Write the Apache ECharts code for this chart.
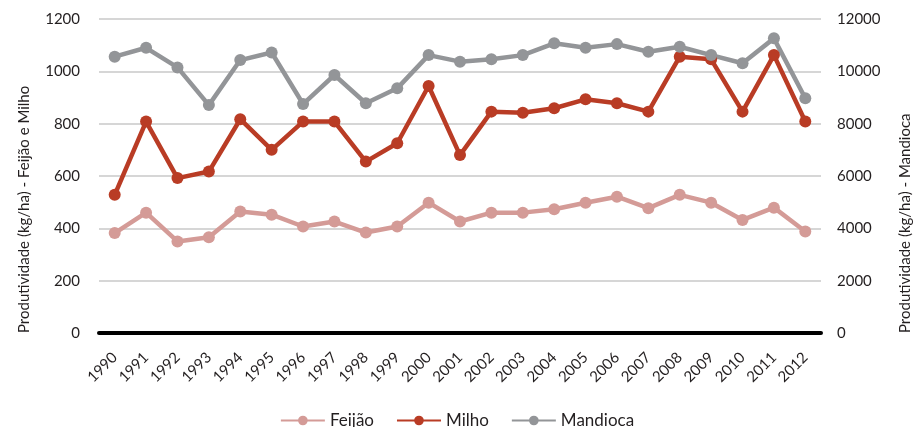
<!DOCTYPE html>
<html>
<head>
<meta charset="utf-8">
<script src="https://cdn.jsdelivr.net/npm/echarts@6/dist/echarts.min.js"></script>
<style>html,body{margin:0;padding:0;background:#fff;}#c{width:914px;height:427px;}</style>
</head>
<body>
<div id="c"></div>
<script>
const years = ['1990','1991','1992','1993','1994','1995','1996','1997','1998','1999','2000','2001','2002','2003','2004','2005','2006','2007','2008','2009','2010','2011','2012'];
const feijao = [382,460,350,366,464,452,407,426,384,407,498,426,460,460,473,498,521,477,528,498,432,479,388];
const milho = [528,808,592,617,817,700,808,808,655,725,944,680,846,842,859,893,878,846,1056,1046,846,1062,808];
const mandioca = [10560,10900,10150,8710,10430,10720,8750,9860,8780,9350,10620,10370,10460,10620,11070,10900,11040,10750,10940,10620,10310,11260,8970];
const leftTicks = {min:0, max:1200, interval:200};
const rightTicks = {min:0, max:12000, interval:2000};
const leftTitle = 'Produtividade (kg/ha) - Feijão e Milho';
const rightTitle = 'Produtividade (kg/ha) - Mandioca';

const font = 'Lato';
const txt = '#231f20';
const chart = echarts.init(document.getElementById('c'));
const mk = (name, data, color, yIdx) => ({
  name, type:'line', data, yAxisIndex:yIdx,
  symbol:'circle', symbolSize:12,
  lineStyle:{color, width:4.5},
  itemStyle:{color},
  emphasis:{disabled:true}
});
chart.setOption({
  animation:false,
  textStyle:{fontFamily:font},
  grid:{left:99, right:93, top:19, bottom:94},
  legend:{
    top:407, left:'center', itemWidth:44, itemHeight:12, itemGap:22,
    textStyle:{fontFamily:font, fontSize:17, color:txt},
    data:['Feijão','Milho','Mandioca']
  },
  graphic:[
    {type:'text', x:24, y:333, rotation:Math.PI/2,
     style:{text:leftTitle, fontFamily:font, fontSize:15, fill:txt, align:'left', verticalAlign:'middle'}},
    {type:'text', x:905, y:333, rotation:Math.PI/2,
     style:{text:rightTitle, fontFamily:font, fontSize:15, fill:txt, align:'left', verticalAlign:'middle'}}
  ],
  xAxis:{
    type:'category', data:years, boundaryGap:true,
    axisLine:{lineStyle:{color:'#000', width:4}},
    axisTick:{show:false},
    axisLabel:{rotate:45, fontSize:15, color:txt, fontFamily:font, margin:22}
  },
  yAxis:[
    {type:'value', min:leftTicks.min, max:leftTicks.max, interval:leftTicks.interval,
     axisLine:{show:false}, axisTick:{show:false},
     axisLabel:{fontSize:15, color:txt, fontFamily:font, margin:19, formatter:v=>String(v)},
     splitLine:{lineStyle:{color:'#c8c8c8', width:1.5}}},
    {type:'value', min:rightTicks.min, max:rightTicks.max, interval:rightTicks.interval,
     axisLine:{show:false}, axisTick:{show:false},
     axisLabel:{fontSize:15, color:txt, fontFamily:font, margin:16, formatter:v=>String(v)},
     splitLine:{show:false}}
  ],
  series:[
    mk('Feijão', feijao, '#d49b97', 0),
    mk('Milho', milho, '#b93c25', 0),
    mk('Mandioca', mandioca, '#939598', 1)
  ]
});
</script>
</body>
</html>
